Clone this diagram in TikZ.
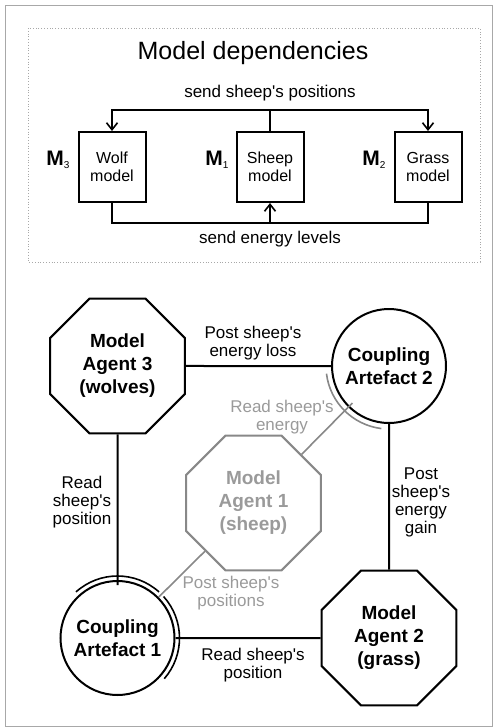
\documentclass[tikz,border=0pt]{standalone}
\usepackage{fontspec}
\setmainfont{Liberation Sans}
\usetikzlibrary{shapes.geometric,arrows.meta,calc}
\definecolor{lgray}{HTML}{888888}
\definecolor{tgray}{HTML}{9A9A9A}
\definecolor{bgray}{HTML}{A8A8A8}
\newcommand{\qq}{\textquotesingle}
\tikzset{
 model/.style={draw, line width=2pt, minimum width=67pt, minimum height=70pt, inner sep=0pt, align=center, font=\fontsize{16}{18}\selectfont},
 conn/.style={line width=2pt},
 arr/.style={line width=2pt, -{Straight Barb[length=7pt,width=11pt,line width=1.6pt]}},
 agent/.style={regular polygon, regular polygon sides=8, draw, line width=2pt, minimum size=146pt, inner sep=0pt, align=center, font=\fontsize{19}{23}\selectfont\bfseries},
 artefact/.style={circle, draw, line width=2pt, minimum size=114pt, inner sep=0pt, align=center, font=\fontsize{19}{23}\selectfont\bfseries},
 lbl/.style={align=center, font=\fontsize{17}{18}\selectfont, inner sep=0pt},
 mlbl/.style={font=\fontsize{21}{21}\selectfont\bfseries, inner sep=0pt},
 arcline/.style={line width=1.6pt},
}
\begin{document}
\begin{tikzpicture}[x=1pt,y=-1pt]
\useasboundingbox (0,0) rectangle (497,728);
\draw[bgray, line width=1pt] (5,5) rectangle (492,726);
\draw[bgray, dotted, line width=0.8pt] (28,28) rectangle (480,262);
\node[font=\fontsize{25}{25}\selectfont] (title) at (253,53) {Model dependencies};
\node[lbl] (sendpos) at (270,93) {send sheep\qq s positions};
\node[lbl] (sendeng) at (270,239) {send energy levels};
% model boxes
\node[model] (wolfm) at (112,167) {Wolf\\model};
\node[model] (sheepm) at (270,167) {Sheep\\model};
\node[model] (grassm) at (428,167) {Grass\\model};
\node[mlbl] (m3) at (58,160) {M\raisebox{-3pt}{\fontsize{10}{10}\selectfont\mdseries 3}};
\node[mlbl] (m1) at (217,160) {M\raisebox{-3pt}{\fontsize{10}{10}\selectfont\mdseries 1}};
\node[mlbl] (m2) at (374,160) {M\raisebox{-3pt}{\fontsize{10}{10}\selectfont\mdseries 2}};
\coordinate (jt) at (270,110);
\coordinate (jb) at (270,223);
\draw[conn] (sheepm.north) -- (jt);
\draw[arr] (jt) -| (wolfm.north);
\draw[arr] (jt) -| (grassm.north);
\draw[conn] (wolfm.south) |- (jb);
\draw[conn] (grassm.south) |- (jb);
\draw[arr] (jb) -- (sheepm.south);
% agents
\node[agent] (wolves) at (117.5,366) {Model\\Agent 3\\(wolves)};
\node[agent, draw=lgray, text=tgray] (sheep) at (253.5,503) {Model\\Agent 1\\(sheep)};
\node[agent] (grass) at (389,638) {Model\\Agent 2\\(grass)};
\node[artefact] (ca2) at (389,366) {Coupling\\Artefact 2};
\node[artefact] (ca1) at (117.5,638) {Coupling\\Artefact 1};
% arcs
\draw[arcline] ([shift={(-132:62)}]ca1.center) arc[start angle=-132, end angle=-48, radius=62];
\draw[arcline] ([shift={(-42:62)}]ca1.center) arc[start angle=-42, end angle=41, radius=62];
\draw[arcline, lgray] ([shift={(-187:63)}]ca2.center) arc[start angle=-187, end angle=-263, radius=63];
% connectors
\draw[conn] (wolves.east) -- (ca2.west);
\draw[conn, shorten >=-5pt] (wolves.south) -- (ca1.north);
\draw[conn] (ca2.south) -- (grass.north);
\draw[conn] (ca1.east) -- (grass.west);
\draw[conn, lgray, line width=1.6pt, shorten >=-6pt] (sheep) -- (ca2);
\draw[conn, lgray, line width=1.6pt] (sheep) -- (ca1);
% labels
\node[lbl] (l1) at (253,343) {Post sheep\qq s\\energy loss};
\node[lbl, text=tgray] (l2) at (282,417) {Read sheep\qq s\\energy};
\node[lbl] (l3) at (82,502) {Read\\sheep\qq s\\position};
\node[lbl] (l4) at (421,502) {Post\\sheep\qq s\\energy\\gain};
\node[lbl, text=tgray] (l5) at (231,593) {Post sheep\qq s\\positions};
\node[lbl] (l6) at (253,665) {Read sheep\qq s\\position};
\end{tikzpicture}
\end{document}
